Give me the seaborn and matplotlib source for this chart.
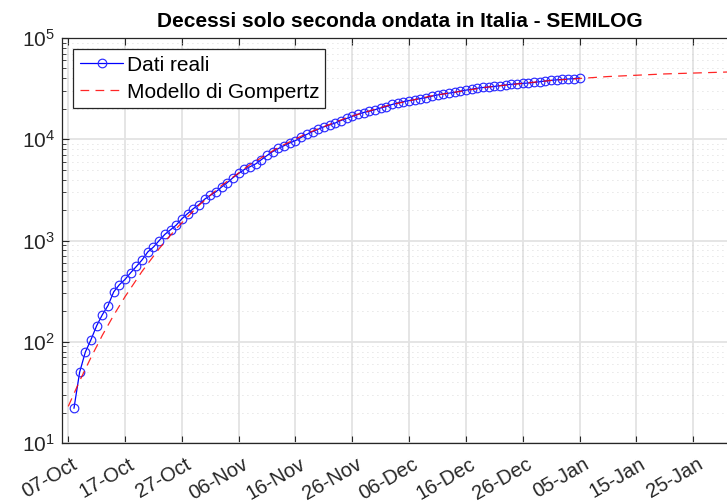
import numpy as np
import pandas as pd
import matplotlib
matplotlib.use("Agg")
import matplotlib.pyplot as plt
import matplotlib.dates as mdates
import matplotlib.transforms as mtransforms
from matplotlib.ticker import LogLocator, LogFormatterMathtext, NullFormatter, NullLocator
import seaborn as sns

# ---------------- data ----------------
title = "Decessi solo seconda ondata in Italia - SEMILOG"
label_data = "Dati reali"
label_model = "Modello di Gompertz"

data_start = "2020-10-08"
deaths = [
    22, 50, 79, 105, 144, 185, 228, 311, 366, 413, 482, 555, 644, 771, 862, 998,
    1149, 1277, 1418, 1639, 1844, 2061, 2260, 2557,
    2793, 3026, 3379, 3731, 4176, 4602, 5027, 5358, 5714, 6294, 6917, 7553, 8103,
    8647, 9193, 9697, 10428, 11181, 11880, 12572, 13271, 13833, 14463, 15316,
    16038, 16860, 17687, 18373, 18914, 19586,
    20371, 21055, 22048, 22862, 23524, 24088, 24616, 25250, 25749, 26636, 27397,
    28046, 28530, 29021, 29867, 30547, 31230, 31904, 32457, 32809, 33224, 33852,
    34405, 34910, 35369, 35630, 35935, 36380, 37039, 37614, 38169,
    38631, 38995, 39342, 39690, 40339,
]

model_dates = [
    "2020-10-07", "2020-10-09", "2020-10-11", "2020-10-13", "2020-10-15",
    "2020-10-17", "2020-10-20", "2020-10-23", "2020-10-26", "2020-10-30",
    "2020-11-03", "2020-11-08", "2020-11-13", "2020-11-18", "2020-11-25",
    "2020-12-02", "2020-12-10", "2020-12-20", "2020-12-31", "2021-01-10",
    "2021-01-20", "2021-01-31", "2021-02-02",
]
model_values = [
    23, 41, 70, 116, 183, 279, 497, 831, 1311, 2225, 3501, 5624, 8306, 11437,
    16310, 21360, 26870, 32870, 38090, 41610, 44170, 46130, 46410,
]

tick_dates = ["2020-10-07", "2020-10-17", "2020-10-27", "2020-11-06", "2020-11-16",
              "2020-11-26", "2020-12-06", "2020-12-16", "2020-12-26", "2021-01-05",
              "2021-01-15", "2021-01-25"]

# ---------------- style ----------------
sns.set_theme(style="white")
plt.rcParams["font.family"] = ["Liberation Sans", "DejaVu Sans"]
plt.rcParams["mathtext.default"] = "regular"
dark = "#262626"

fig = plt.figure(figsize=(7.27, 5.04), dpi=100)
W, H = 727, 504
ax = fig.add_axes([62 / W, 61 / H, 676 / W, 405 / H])

df_data = pd.DataFrame({
    "date": pd.date_range(data_start, periods=len(deaths), freq="D"),
    "value": deaths,
})
df_model = pd.DataFrame({"date": pd.to_datetime(model_dates), "value": model_values})

sns.lineplot(data=df_data, x="date", y="value", ax=ax, color="#0000ff",
             linewidth=0.9, marker="o", markersize=6.2, markerfacecolor="none",
             markeredgecolor="#2a2aff", markeredgewidth=0.85, label=label_data,
             zorder=3)
sns.lineplot(data=df_model, x="date", y="value", ax=ax, color="#ff0000",
             linewidth=0.9, linestyle=(0, (7, 5)), label=label_model, zorder=4,
             alpha=0.85)

ax.set_yscale("log")
ax.set_ylim(10, 1e5)
ax.set_xlim(pd.Timestamp("2020-10-05 21:30"), pd.Timestamp("2021-02-01 21:30"))
ax.set_xlabel("")
ax.set_ylabel("")

ax.set_xticks(pd.to_datetime(tick_dates))
ax.xaxis.set_major_formatter(mdates.DateFormatter("%d-%b"))
ax.xaxis.set_minor_locator(NullLocator())
ax.yaxis.set_major_locator(LogLocator(base=10, numticks=10))
ax.yaxis.set_major_formatter(LogFormatterMathtext())
ax.yaxis.set_minor_locator(LogLocator(base=10, subs=np.arange(2, 10), numticks=20))
ax.yaxis.set_minor_formatter(NullFormatter())

ax.tick_params(axis="both", which="major", direction="in", length=5, width=0.8,
               colors=dark, labelsize=15, top=True, right=False,
               bottom=True, left=True, labelcolor=dark)
ax.tick_params(axis="x", which="major", labelsize=14.5)
ax.tick_params(axis="y", which="minor", direction="in", length=3, width=0.6,
               colors=dark, left=True, right=False)
ax.tick_params(axis="y", which="major", pad=5)

for lbl in ax.get_xticklabels():
    lbl.set_rotation(30)
    lbl.set_ha("right")
    lbl.set_va("center")
    lbl.set_rotation_mode("anchor")
    lbl.set_transform(lbl.get_transform() + mtransforms.Affine2D().translate(8, -15))

ax.grid(True, which="major", color="#e3e3e3", linewidth=1.3)
ax.grid(True, which="minor", axis="y", color="#cdcdcd", linewidth=0.6,
        linestyle=(0, (1, 5)))
ax.set_axisbelow(True)

for s in ax.spines.values():
    s.set_color(dark)
    s.set_linewidth(0.9)
    s.set_visible(True)

ax.set_title(title, fontsize=15, fontweight="bold", pad=8, color="black")

leg = ax.legend(loc="upper left", frameon=True, fancybox=False, fontsize=15,
                edgecolor=dark, framealpha=1, borderaxespad=0.55,
                handlelength=2.1, handletextpad=0.15, borderpad=0.3,
                labelspacing=0.38, numpoints=1)
leg.get_frame().set_linewidth(0.9)
for t in leg.get_texts():
    t.set_color("black")

fig.savefig("out.png", dpi=100)
